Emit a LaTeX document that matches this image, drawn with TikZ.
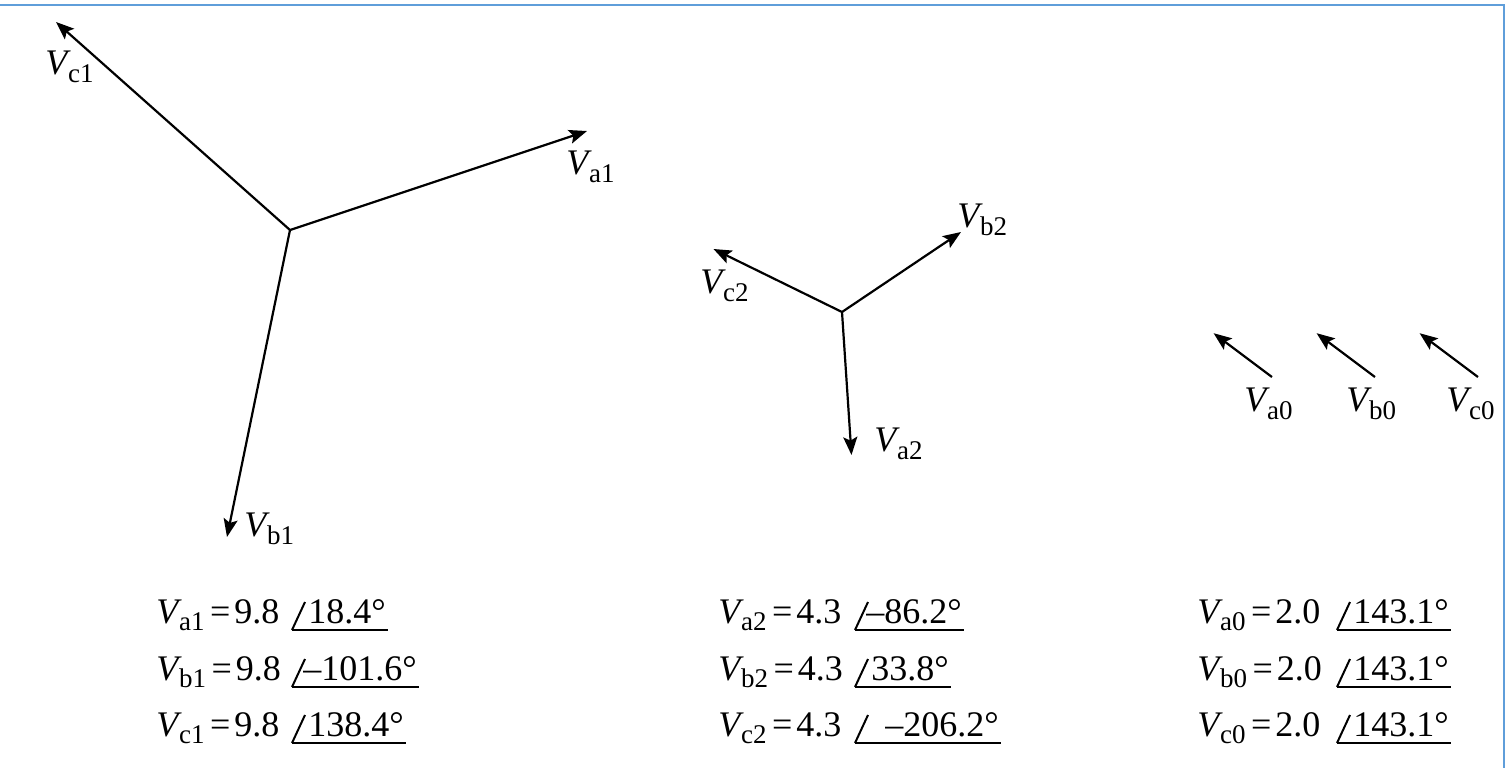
\documentclass[tikz,border=0pt]{standalone}
\usepackage{fontspec}
\setmainfont{Liberation Serif}
\usetikzlibrary{arrows.meta,calc}
\definecolor{framecol}{RGB}{95,158,218}
\newcommand\Vsb[2][4pt]{\textit{V}\kern-1.4pt\raisebox{-#1}{\fontsize{13.5}{15}\selectfont #2}}
% #1 name, #2 x, #3 baseline y, #4 subscript, #5 magnitude, #6 slash x, #7 offset of value, #8 angle text
\newcommand\phasoreq[8]{%
  \node[lbl] (e#1) at (#2,#3) {\Vsb[3.5pt]{#4}\kern2.8pt=\kern2pt#5};
  \coordinate (s#1) at (#6,#3+7);
  \node[lbl] (v#1) at ($(s#1)+(#7,-7)$) {#8};
  \draw[angl] (s#1) -- ++(13,-28);
  \draw[angl] (s#1) -- ($(s#1 -| v#1.east)+(2,0)$);
}
\begin{document}
\begin{tikzpicture}[x=0.5pt,y=-0.5pt,
  font=\fontsize{18}{21}\selectfont,
  vec/.style={line width=1.1pt,-{Stealth[length=9pt,width=7pt,inset=1.8pt]}},
  lbl/.style={inner sep=0pt,anchor=base west},
  angl/.style={line width=1pt}]
\useasboundingbox (0,0) rectangle (1506,768);
\draw[framecol,line width=1.3pt] (0,5) -- (1504,5) -- (1504,768);

% positive sequence
\coordinate (O1) at (290,230);
\coordinate (ta1) at (587,131);
\coordinate (tb1) at (227,537);
\coordinate (tc1) at (56,22);
\draw[vec] (O1) -- (ta1);
\draw[vec] (O1) -- (tb1);
\draw[vec] (O1) -- (tc1);
\node[lbl] (la1) at (566,174) {\Vsb{a1}};
\node[lbl] (lb1) at (244,536) {\Vsb{b1}};
\node[lbl] (lc1) at (45,74) {\Vsb{c1}};

% negative sequence
\coordinate (O2) at (842,312);
\coordinate (ta2) at (851.5,455);
\coordinate (tb2) at (961,232);
\coordinate (tc2) at (713.5,249);
\draw[vec] (O2) -- (ta2);
\draw[vec] (O2) -- (tb2);
\draw[vec] (O2) -- (tc2);
\node[lbl] (la2) at (874,451) {\Vsb{a2}};
\node[lbl] (lb2) at (957,227) {\Vsb{b2}};
\node[lbl] (lc2) at (700,293) {\Vsb{c2}};

% zero sequence
\coordinate (Oa0) at (1272,377);
\coordinate (ta0) at (1213.6,333.2);
\coordinate (Ob0) at (1375,377);
\coordinate (tb0) at (1316.6,333.2);
\coordinate (Oc0) at (1478,377);
\coordinate (tc0) at (1419.6,333.2);
\draw[vec] (Oa0) -- (ta0);
\draw[vec] (Ob0) -- (tb0);
\draw[vec] (Oc0) -- (tc0);
\node[lbl] (la0) at (1244,411) {\Vsb{a0}};
\node[lbl] (lb0) at (1346,411) {\Vsb{b0}};
\node[lbl] (lc0) at (1446,411) {\Vsb{c0}};

% equations
\phasoreq{A1}{156}{623}{a1}{9.8}{292}{16}{18.4°}
\phasoreq{B1}{156}{680}{b1}{9.8}{292}{11}{–101.6°}
\phasoreq{C1}{156}{736}{c1}{9.8}{292}{16}{138.4°}
\phasoreq{A2}{718}{623}{a2}{4.3}{855}{11}{–86.2°}
\phasoreq{B2}{718}{680}{b2}{4.3}{855}{16}{33.8°}
\phasoreq{C2}{718}{736}{c2}{4.3}{855}{30}{–206.2°}
\phasoreq{A0}{1197}{623}{a0}{2.0}{1337}{16}{143.1°}
\phasoreq{B0}{1197}{680}{b0}{2.0}{1337}{16}{143.1°}
\phasoreq{C0}{1197}{736}{c0}{2.0}{1337}{16}{143.1°}
\end{tikzpicture}
\end{document}
